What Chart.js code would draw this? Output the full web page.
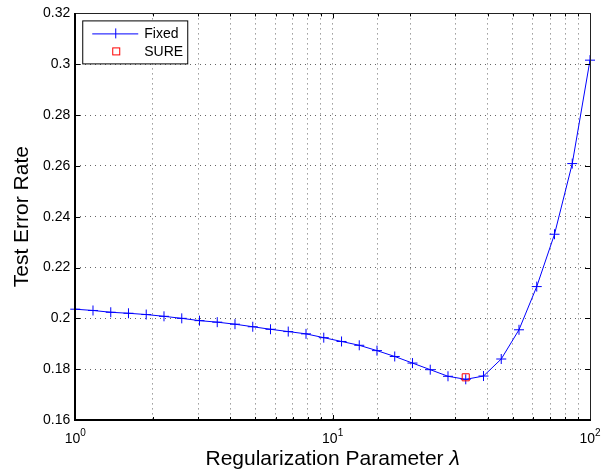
<!DOCTYPE html>
<html>
<head>
<meta charset="utf-8">
<script src="https://cdn.jsdelivr.net/npm/chart.js@4.4.0/dist/chart.umd.min.js"></script>
<style>
  html, body { margin: 0; padding: 0; background: #fff; }
  #wrap { width: 606px; height: 470px; }
</style>
</head>
<body>
<div id="wrap"><canvas id="chart" width="606" height="470"></canvas></div>
<script>
// regularization parameter values (log spaced markers)
const lambdas = [1.000, 1.172, 1.374, 1.610, 1.887, 2.212, 2.593, 3.039, 3.562, 4.175,
                 4.894, 5.736, 6.723, 7.881, 9.237, 10.83, 12.69, 14.87, 17.43, 20.43,
                 23.95, 28.07, 32.90, 38.57, 45.20, 52.98, 62.10, 72.79, 85.32, 100.0];
// test error rate for fixed lambda
const fixedErr = [0.2036, 0.2031, 0.2024, 0.2020, 0.2015, 0.2008, 0.2000, 0.1991, 0.1985, 0.1977,
                  0.1967, 0.1957, 0.1948, 0.1939, 0.1924, 0.1909, 0.1894, 0.1873, 0.1850, 0.1824,
                  0.1798, 0.1772, 0.1760, 0.1773, 0.1840, 0.1955, 0.2125, 0.2331, 0.2609, 0.3016];
// lambda picked by SURE
const sureLambda = [32.90];
const sureErr = [0.1768];

const xTickLabels = [1, 10, 100];
const xExponents = ['0', '1', '2'];

const FONT = "'Liberation Sans', Arial, Helvetica, sans-serif";

let canvas = document.getElementById("chart");
let context = canvas.getContext('2d');

// matlab style decorations: box, inward ticks, x labels, titles, legend
const matlabAxes = {
    id: 'matlabAxes',
    afterDraw(chart) {
        const ctx = chart.ctx;
        const a = chart.chartArea;
        const xs = chart.scales.x, ys = chart.scales.y;
        ctx.save();
        ctx.strokeStyle = '#000';
        ctx.lineWidth = 1;

        // inward tick marks
        ctx.beginPath();
        xs.ticks.forEach(t => {
            const px = Math.round(xs.getPixelForValue(t.value)) + 0.5;
            const major = xTickLabels.includes(t.value);
            const len = major ? 5 : 3;
            ctx.moveTo(px, a.bottom); ctx.lineTo(px, a.bottom - len);
            ctx.moveTo(px, a.top); ctx.lineTo(px, a.top + len);
        });
        ys.ticks.forEach(t => {
            const py = Math.round(ys.getPixelForValue(t.value)) + 0.5;
            ctx.moveTo(a.left, py); ctx.lineTo(a.left + 5, py);
            ctx.moveTo(a.right, py); ctx.lineTo(a.right - 5, py);
        });
        ctx.stroke();

        // box: heavier left / bottom axes
        const L = Math.round(a.left), R = Math.round(a.right);
        const T = Math.round(a.top), B = Math.round(a.bottom);
        ctx.strokeStyle = '#222';
        ctx.beginPath();
        ctx.moveTo(L, T + 0.5); ctx.lineTo(R + 0.5, T + 0.5); ctx.lineTo(R + 0.5, B);
        ctx.stroke();
        ctx.strokeStyle = '#000';
        ctx.lineWidth = 2;
        ctx.beginPath();
        ctx.moveTo(L, T); ctx.lineTo(L, B); ctx.lineTo(R + 1, B);
        ctx.stroke();
        ctx.lineWidth = 1;

        // x tick labels 10^n
        ctx.fillStyle = '#000';
        ctx.textBaseline = 'alphabetic';
        xTickLabels.forEach((v, i) => {
            const px = xs.getPixelForValue(v);
            ctx.font = '14px ' + FONT;
            const w1 = ctx.measureText('10').width;
            ctx.font = '10px ' + FONT;
            const w2 = ctx.measureText(xExponents[i]).width;
            const x0 = px - (w1 + w2) / 2;
            ctx.font = '14px ' + FONT;
            ctx.textAlign = 'left';
            ctx.fillText('10', x0, a.bottom + 23);
            ctx.font = '10px ' + FONT;
            ctx.fillText(xExponents[i], x0 + w1, a.bottom + 16);
        });

        // axis titles
        const titleFont = '21px ' + FONT;
        const t1 = 'Regularization Parameter ';
        ctx.font = titleFont;
        const wT = ctx.measureText(t1).width;
        ctx.font = 'italic ' + titleFont;
        const wL = ctx.measureText('λ').width;
        const cx = (a.left + a.right) / 2;
        ctx.textAlign = 'left';
        ctx.font = titleFont;
        ctx.fillText(t1, cx - (wT + wL) / 2, a.bottom + 45);
        ctx.font = 'italic ' + titleFont;
        ctx.fillText('λ', cx - (wT + wL) / 2 + wT, a.bottom + 45);

        ctx.save();
        ctx.translate(28, (a.top + a.bottom) / 2);
        ctx.rotate(-Math.PI / 2);
        ctx.textAlign = 'center';
        ctx.font = titleFont;
        ctx.fillText('Test Error Rate', 0, 0);
        ctx.restore();

        // legend
        const lx = a.left + 7, ly = a.top + 7, lw = 105, lh = 43;
        ctx.fillStyle = '#fff';
        ctx.fillRect(lx, ly, lw, lh);
        ctx.strokeStyle = '#000';
        ctx.strokeRect(lx + 0.5, ly + 0.5, lw, lh);
        const row1 = ly + 13, row2 = ly + 31;
        ctx.strokeStyle = '#0000ff';
        ctx.beginPath();
        ctx.moveTo(lx + 10, row1 + 0.5); ctx.lineTo(lx + 56, row1 + 0.5);
        ctx.moveTo(lx + 33.5, row1 - 5); ctx.lineTo(lx + 33.5, row1 + 5);
        ctx.stroke();
        ctx.strokeStyle = '#ff0000';
        ctx.strokeRect(lx + 30.5, row2 - 3.5, 7, 7);
        ctx.fillStyle = '#000';
        ctx.font = '14px ' + FONT;
        ctx.textBaseline = 'middle';
        ctx.fillText('Fixed', lx + 62, row1 + 1);
        ctx.fillText('SURE', lx + 62, row2 + 1);
        ctx.restore();
    }
};

let chart = new Chart(context, {
    type: 'line',
    data: {
        datasets: [
            {
                label: 'Fixed',
                data: lambdas.map((l, i) => ({x: l, y: fixedErr[i]})),
                borderColor: '#0000ff',
                backgroundColor: '#0000ff',
                borderWidth: 1,
                pointStyle: 'cross',
                pointRadius: 5,
                pointBorderWidth: 1,
                pointBorderColor: '#0000ff',
                tension: 0,
                clip: false,
                order: 2
            },
            {
                label: 'SURE',
                data: sureLambda.map((l, i) => ({x: l, y: sureErr[i]})),
                showLine: false,
                pointStyle: 'rect',
                pointRadius: 5,
                pointBorderWidth: 1,
                pointBorderColor: '#ff0000',
                pointBackgroundColor: 'rgba(0,0,0,0)',
                clip: false,
                order: 1
            }
        ]
    },
    options: {
        responsive: false,
        animation: false,
        events: [],
        layout: { padding: { left: 38, top: 11, right: 16, bottom: 50 } },
        plugins: {
            legend: { display: false },
            tooltip: { enabled: false }
        },
        scales: {
            x: {
                type: 'logarithmic',
                min: 1,
                max: 100,
                ticks: { display: false },
                grid: { color: 'rgba(0,0,0,0.6)', drawTicks: false, lineWidth: 1 },
                border: { display: false, dash: [1, 4] }
            },
            y: {
                min: 0.16,
                max: 0.32,
                ticks: {
                    stepSize: 0.02,
                    color: '#000',
                    padding: 5,
                    font: { size: 14, family: FONT },
                    callback: v => parseFloat(v.toFixed(2)).toString()
                },
                grid: { color: 'rgba(0,0,0,0.6)', drawTicks: false, lineWidth: 1 },
                border: { display: false, dash: [1, 4] }
            }
        }
    },
    plugins: [matlabAxes]
});
</script>
</body>
</html>
